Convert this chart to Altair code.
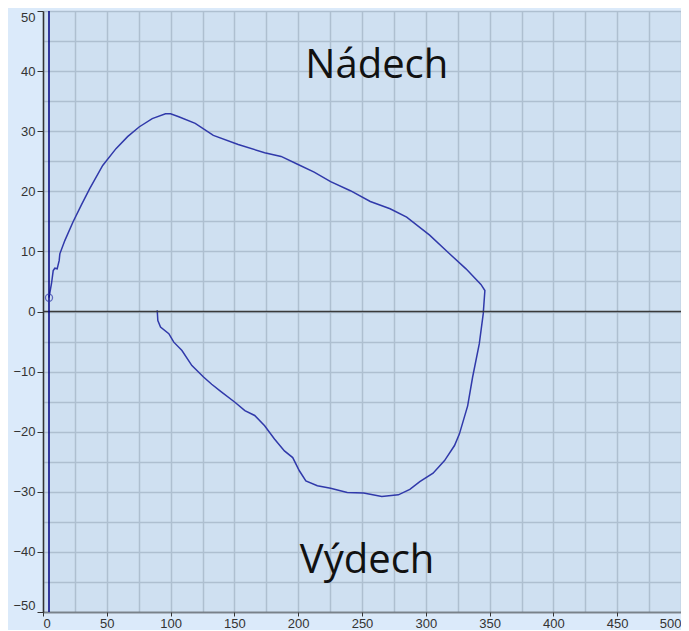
import altair as alt
import pandas as pd

# Loop (volume x, pressure y), in drawing order
loop_x = [4.7, 6.7, 8.0, 9.3, 11.1, 12.7, 13.2, 17.1, 23.5, 30.0, 36.5, 46.8, 57.2, 66.3, 75.3,
          85.6, 96.0, 100.0, 106.4, 119.3, 133.5, 153.0, 173.7, 186.6, 199.5, 212.5, 225.4,
          240.9, 256.5, 272.0, 285.0, 303.0, 318.6, 331.5, 343.2, 346.3, 345.0, 341.9, 336.7,
          332.8, 326.3, 322.5, 314.7, 305.7, 295.3, 287.5, 278.5, 265.5, 251.3, 238.4, 225.4,
          215.0, 206.0, 200.9, 195.7, 189.2, 181.4, 173.7, 165.9, 158.2, 150.4, 140.0, 132.2,
          125.8, 116.7, 108.9, 102.5, 98.6, 92.1, 90.0, 89.5]
loop_y = [2.3, 4.7, 6.8, 7.2, 7.1, 8.5, 9.6, 11.8, 14.9, 17.7, 20.4, 24.3, 27.1, 29.1, 30.7,
          32.1, 32.9, 32.9, 32.4, 31.3, 29.3, 27.8, 26.4, 25.8, 24.5, 23.2, 21.6,
          20.1, 18.3, 17.1, 15.7, 12.7, 9.6, 7.1, 4.5, 3.5, -0.4, -5.4, -10.9,
          -15.7, -20.4, -22.3, -24.8, -26.9, -28.3, -29.6, -30.5, -30.8, -30.2, -30.1, -29.4,
          -29.0, -28.2, -26.5, -24.3, -23.2, -21.2, -19.0, -17.3, -16.5, -15.1, -13.4, -12.1,
          -10.9, -9.0, -6.5, -5.1, -3.7, -2.6, -1.5, 0.2]

start_x = [4.7]
start_y = [2.3]
marker_x = [4.7]

labels = ["Nádech", "Výdech"]
label_x = [261.6, 254.0]
label_y = [38.8, -43.5]

x_grid = list(range(0, 501, 25))
y_grid = list(range(-50, 51, 5))

loop_df = pd.DataFrame({"x": loop_x, "y": loop_y, "i": list(range(len(loop_x)))})
start_df = pd.DataFrame({"x": start_x, "y": start_y})
marker_df = pd.DataFrame({"x": marker_x})
label_df = pd.DataFrame({"t": labels, "x": label_x, "y": label_y})
zero_df = pd.DataFrame({"y": [0]})

xs = alt.Scale(domain=[0, 500], nice=False)
ys = alt.Scale(domain=[-50, 50], nice=False)

x_axis = alt.Axis(values=x_grid, title=None, grid=True, gridColor="#aebfd0", gridWidth=1.5,
                  labelExpr="datum.value % 50 == 0 ? datum.label : ''",
                  tickOpacity={"condition": {"test": "datum.value % 50 == 0", "value": 1}, "value": 0},
                  tickSize=4, tickColor="#333333", labelPadding=1, labelFlush=True,
                  domainColor="#444444", domainWidth=2, domainDash=[1, 1],
                  labelFont="Liberation Sans", labelFontSize=13, labelColor="#333333")
y_axis = alt.Axis(values=y_grid, title=None, grid=True, gridColor="#aebfd0", gridWidth=1.5,
                  labelExpr="datum.value % 10 == 0 ? datum.label : ''",
                  tickOpacity={"condition": {"test": "datum.value % 10 == 0", "value": 1}, "value": 0},
                  tickSize=6, tickColor="#333333", labelPadding=2, labelFlush=True,
                  domainColor="#333333", domainWidth=1.5,
                  labelFont="Liberation Sans", labelFontSize=13, labelColor="#333333")

X = alt.X("x:Q", scale=xs, axis=x_axis)
Y = alt.Y("y:Q", scale=ys, axis=y_axis)

base_line = alt.Chart(loop_df).mark_line(color="#3039aa", strokeWidth=1.5).encode(
    x=X, y=Y, order="i:Q")

zero = alt.Chart(zero_df).mark_rule(color="#3a3a3a", strokeWidth=1.5).encode(y=Y)

vline = alt.Chart(marker_df).mark_rule(color="#000080", strokeWidth=1.5).encode(x=X)

start = alt.Chart(start_df).mark_point(shape="circle", filled=False, color="#3039aa",
                                       size=50, strokeWidth=1.3).encode(x=X, y=Y)

text = alt.Chart(label_df).mark_text(font="Open Sans", fontSize=40, color="#111111",
                                     align="center", baseline="alphabetic").encode(
    x=X, y=Y, text="t:N")

chart = alt.layer(base_line, zero, vline, start, text).properties(
    width=638, height=601,
    background="#dbeafa",
    padding={"left": 35, "top": 3, "right": 0, "bottom": 18},
    autosize=alt.AutoSizeParams(type="none"),
).configure_view(fill="#cfe0f1", stroke=None)

chart.save("out.html", embed_options={"renderer": "svg", "actions": False})
